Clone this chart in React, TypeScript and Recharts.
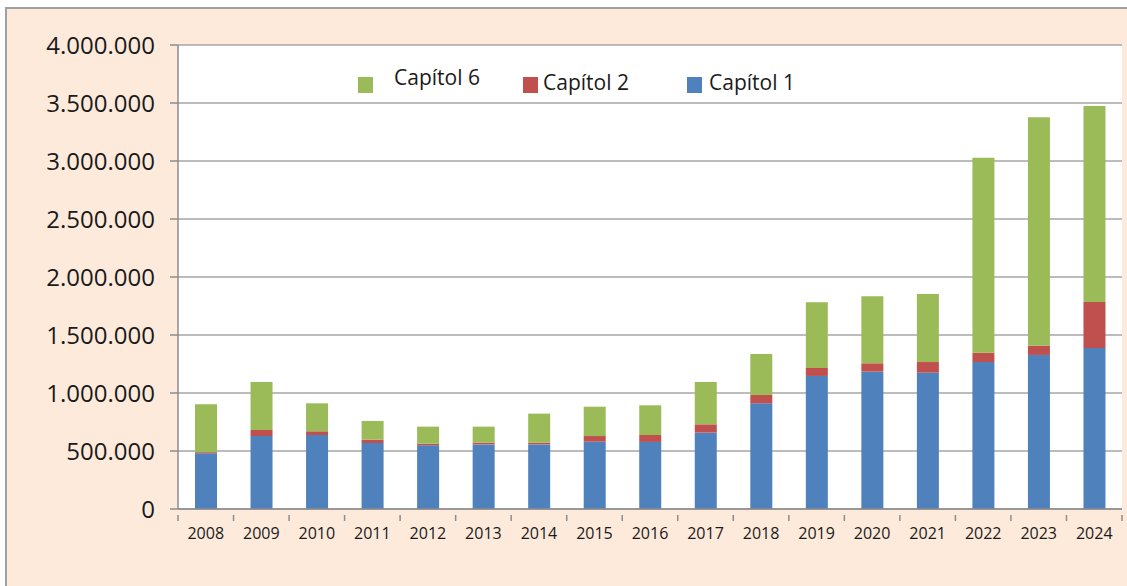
import { Bar, BarChart, CartesianGrid, XAxis, YAxis } from "recharts";

const years = [
  "2008", "2009", "2010", "2011", "2012", "2013", "2014", "2015", "2016",
  "2017", "2018", "2019", "2020", "2021", "2022", "2023", "2024",
];
const capitol1 = [
  480000, 629000, 638000, 569000, 549000, 557000, 557000, 580000, 578000,
  658000, 911000, 1147000, 1184000, 1175000, 1267000, 1328000, 1388000,
];
const capitol2 = [
  10000, 52000, 32000, 29000, 14000, 15000, 15000, 49000, 60000,
  72000, 72000, 69000, 72000, 92000, 80000, 80000, 396000,
];
const capitol6 = [
  412000, 414000, 241000, 161000, 147000, 138000, 250000, 253000, 256000,
  365000, 353000, 566000, 578000, 586000, 1681000, 1969000, 1690000,
];
const yTicks = [0, 500000, 1000000, 1500000, 2000000, 2500000, 3000000, 3500000, 4000000];

const data = years.map((year, i) => ({
  year,
  c1: capitol1[i],
  c2: capitol2[i],
  c6: capitol6[i],
}));

const FONT = "'Open Sans', sans-serif";
const AXIS = "#8C8C8C";
const W = 1127;
const H = 586;
const MARGIN = { top: 45, right: 5, bottom: 47, left: 8 };
const Y_WIDTH = 170;
const PLOT_W = W - MARGIN.left - MARGIN.right - Y_WIDTH;

const legendItems = [
  { name: "Capítol 6", color: "#9BBB59", box: 358, text: 394, textTop: 67 },
  { name: "Capítol 2", color: "#C0504D", box: 523, text: 543, textTop: 72 },
  { name: "Capítol 1", color: "#4F81BD", box: 687, text: 709, textTop: 72 },
];

const fmt = (v: number) => String(v).replace(/\B(?=(\d{3})+(?!\d))/g, ".");

function YearTick(props: any) {
  const { x, y, payload, index } = props;
  const step = PLOT_W / years.length;
  const top = y - 13;
  return (
    <g>
      <line x1={x - step / 2} x2={x - step / 2} y1={top} y2={top + 6} stroke={AXIS} strokeWidth={1.5} />
      {index === years.length - 1 && (
        <line x1={x + step / 2} x2={x + step / 2} y1={top} y2={top + 6} stroke={AXIS} strokeWidth={1.5} />
      )}
      <text x={x} y={y} dy="0.71em" textAnchor="middle" fill="#1a1a1a" fontSize={16} fontFamily={FONT}>
        {payload.value}
      </text>
    </g>
  );
}

export default function App() {
  return (
    <div style={{ position: "absolute", left: 0, top: 0, width: W, height: H, overflow: "hidden", background: "#fff" }}>
      <div
        style={{
          position: "absolute",
          left: 5,
          top: 7,
          width: W + 20,
          height: H + 20,
          border: "2px solid #A0A0A0",
          background: "#FDEADB",
        }}
      />
      <div style={{ position: "absolute", left: 0, top: 0 }}>
        <BarChart width={W} height={H} data={data} margin={MARGIN} barSize={22}>
          <CartesianGrid vertical={false} fill="#ffffff" stroke="#A6A6A6" strokeWidth={1.5} />
          <XAxis
            dataKey="year"
            height={30}
            stroke={AXIS}
            strokeWidth={1.5}
            tickLine={false}
            tickMargin={13}
            tickSize={6}
            interval={0}
            tick={<YearTick />}
          />
          <YAxis
            width={Y_WIDTH}
            domain={[0, 4000000]}
            ticks={yTicks}
            interval={0}
            stroke={AXIS}
            strokeWidth={1.5}
            tickSize={8}
            tickMargin={15}
            tickFormatter={fmt}
            tick={{ fill: "#1a1a1a", fontSize: 24, fontFamily: FONT }}
          />
          <Bar dataKey="c1" name="Capítol 1" stackId="a" fill="#4F81BD" isAnimationActive={false} />
          <Bar dataKey="c2" name="Capítol 2" stackId="a" fill="#C0504D" isAnimationActive={false} />
          <Bar dataKey="c6" name="Capítol 6" stackId="a" fill="#9BBB59" isAnimationActive={false} />
        </BarChart>
      </div>
      {legendItems.map((item) => (
        <div key={item.name}>
          <div
            style={{
              position: "absolute",
              left: item.box,
              top: 77,
              width: 15,
              height: 16,
              background: item.color,
            }}
          />
          <div
            style={{
              position: "absolute",
              left: item.text,
              top: item.textTop,
              fontFamily: FONT,
              fontSize: 21,
              lineHeight: "21px",
              color: "#1a1a1a",
              whiteSpace: "nowrap",
            }}
          >
            {item.name}
          </div>
        </div>
      ))}
    </div>
  );
}
